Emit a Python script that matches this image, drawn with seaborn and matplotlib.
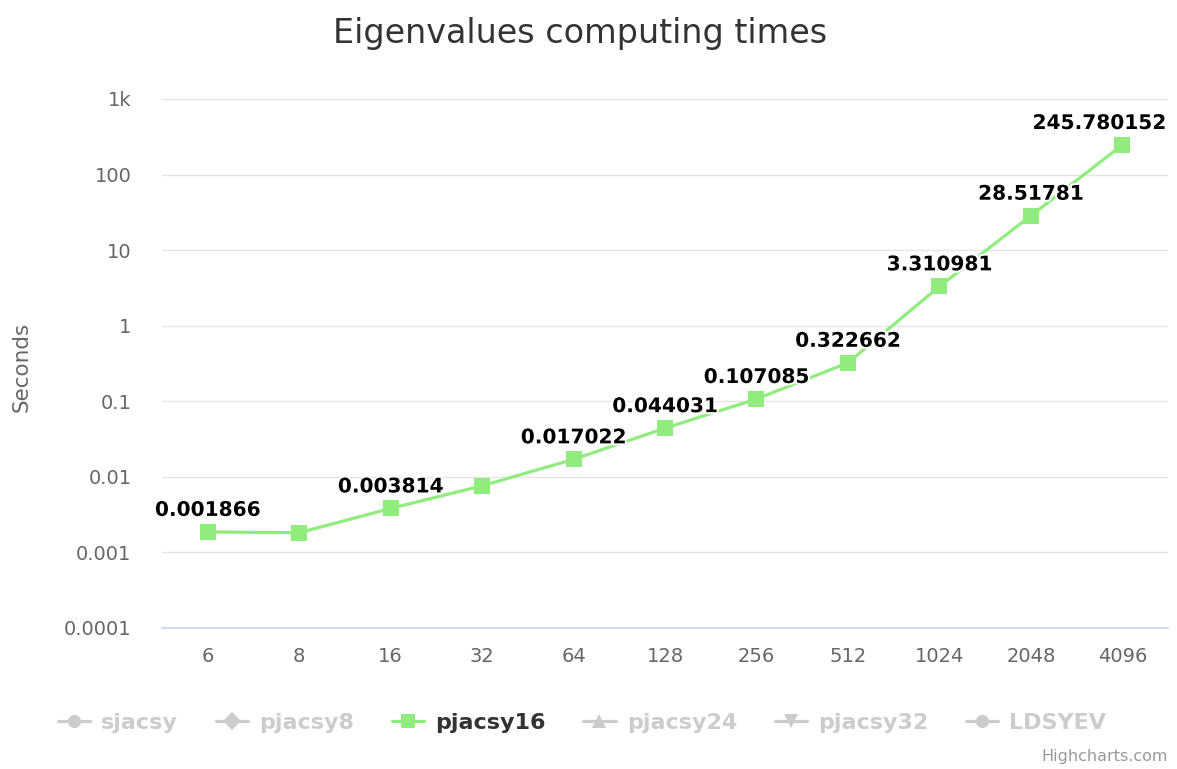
import numpy as np
import pandas as pd
import seaborn as sns
import matplotlib
matplotlib.use("Agg")
import matplotlib.pyplot as plt
import matplotlib.patheffects as pe
from matplotlib.lines import Line2D

# data
sizes = ["6", "8", "16", "32", "64", "128", "256", "512", "1024", "2048", "4096"]
seconds = [0.001866, 0.00182, 0.003814, 0.00761, 0.017022, 0.044031,
           0.107085, 0.322662, 3.310981, 28.51781, 245.780152]
point_labels = ["0.001866", "", "0.003814", "", "0.017022", "0.044031",
                "0.107085", "0.322662", "3.310981", "28.51781", "245.780152"]
series_names = ["sjacsy", "pjacsy8", "pjacsy16", "pjacsy24", "pjacsy32", "LDSYEV"]
series_markers = ["o", "D", "s", "^", "v", "o"]
visible_series = "pjacsy16"
y_ticks = [1e-4, 1e-3, 1e-2, 1e-1, 1, 10, 100, 1000]
y_ticklabels = ["0.0001", "0.001", "0.01", "0.1", "1", "10", "100", "1k"]

green = "#90ed7d"
hidden = "#cccccc"

sns.set_theme(style="white")
plt.rcParams['font.family'] = ['DejaVu Sans']

df = pd.DataFrame({"size": sizes, "seconds": seconds})

fig = plt.figure(figsize=(11.77, 7.69), dpi=100)
ax = fig.add_axes([0.1376, 0.1834, 0.8548, 0.6879])

sns.lineplot(data=df, x="size", y="seconds", ax=ax, sort=False,
             color=green, linewidth=2.3, marker="s", markersize=11.5,
             markeredgewidth=0, zorder=3)

ax.set_yscale("log")
ax.set_ylim(1e-4, 1e3)
ax.set_xlim(-0.5, len(sizes) - 0.5)
ax.set_yticks(y_ticks)
ax.set_yticklabels(y_ticklabels)
ax.yaxis.set_minor_locator(matplotlib.ticker.NullLocator())
ax.set_xticks(range(len(sizes)))
ax.set_xticklabels(sizes)
ax.tick_params(axis="both", length=0, labelsize=14, colors="#666666")
ax.tick_params(axis="x", pad=14)
ax.tick_params(axis="y", pad=22)
ax.grid(axis="y", color="#e6e6e6", linewidth=1)
ax.grid(axis="x", visible=False)
for s in ["top", "right", "left"]:
    ax.spines[s].set_visible(False)
ax.spines["bottom"].set_color("#ccd6eb")
ax.spines["bottom"].set_linewidth(1.2)
ax.set_xlabel("")
ax.set_ylabel("")
fig.text(0.0187, 0.523, "Seconds", rotation=90, ha="center", va="center",
         fontsize=15.5, color="#666666")

annots = []
for i, lab in enumerate(point_labels):
    if lab:
        a = ax.annotate(lab, (i, seconds[i]), xytext=(0, 15.5), textcoords="offset points",
                        ha="center", va="center", fontsize=14.5, fontweight="bold",
                        color="black", zorder=5, annotation_clip=False,
                        path_effects=[pe.withStroke(linewidth=3, foreground="white")])
        annots.append(a)

# keep labels inside the plot area like highcharts does
fig.canvas.draw()
r = fig.canvas.get_renderer()
ax_right = ax.get_window_extent(r).x1
for a in annots:
    bb = a.get_window_extent(r)
    if bb.x1 > ax_right:
        shift = (bb.x1 - ax_right + 2) * 72 / fig.dpi
        a.xyann = (a.xyann[0] - shift, a.xyann[1])

fig.text(0.493, 0.957, "Eigenvalues computing times", ha="center", va="center",
         fontsize=24, color="#333333")

handles = []
for name, m in zip(series_names, series_markers):
    c = green if name == visible_series else hidden
    handles.append(Line2D([0], [0], color=c, linewidth=2.3, marker=m,
                          markersize=9.5, markeredgewidth=0))
leg = fig.legend(handles, series_names, loc="center", bbox_to_anchor=(0.4945, 0.060),
                 ncol=6, frameon=False, handlelength=1.45, handletextpad=0.5,
                 columnspacing=1.7, prop={"size": 16, "weight": "bold"})
for txt, name in zip(leg.get_texts(), series_names):
    txt.set_color("#333333" if name == visible_series else hidden)

fig.text(0.992, 0.016, "Highcharts.com", ha="right", va="center",
         fontsize=11.5, color="#999999")

fig.savefig("out.png", dpi=100, facecolor="white")
